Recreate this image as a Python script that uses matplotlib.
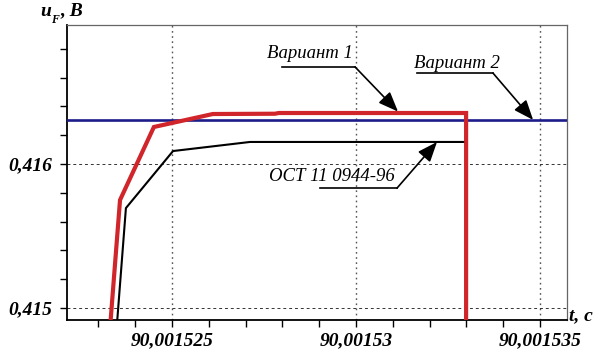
import matplotlib
matplotlib.use("Agg")
import matplotlib.pyplot as plt
from matplotlib.ticker import MultipleLocator, NullFormatter

# ---- data ----
red_t = [90.00152333, 90.00152359, 90.00152451, 90.00152611, 90.00152780,
         90.00152790, 90.00153299, 90.00153299]
red_u = [0.41490, 0.415750, 0.416257, 0.416347, 0.416349,
         0.416354, 0.416354, 0.41490]
black_t = [90.00152351, 90.00152375, 90.00152503, 90.00152712, 90.00153291]
black_u = [0.41490, 0.415694, 0.416090, 0.416153, 0.416153]
blue_u = 0.416306
xticks = [90.001525, 90.00153, 90.001535]
xtick_labels = ["90,001525", "90,00153", "90,001535"]
yticks = [0.415, 0.416]
ytick_labels = ["0,415", "0,416"]
xlim = (90.00152215, 90.00153573)
ylim = (0.414917, 0.416965)

serif = "Liberation Serif"

fig = plt.figure(figsize=(6.01, 3.51), dpi=100)
ax = fig.add_axes([0.1115, 0.0883, 0.8319, 0.8405])
ax.set_xlim(*xlim)
ax.set_ylim(*ylim)

ax.axhline(blue_u, color="#1c1c8a", lw=1.9, zorder=3)
ax.plot(red_t, red_u, color="#d0252a", lw=3.0, solid_joinstyle="miter", zorder=4)
ax.plot(black_t, black_u, color="black", lw=1.5, zorder=4)

ax.set_xticks(xticks)
ax.set_xticklabels(xtick_labels)
ax.set_yticks(yticks)
ax.set_yticklabels(ytick_labels)
ax.xaxis.set_minor_locator(MultipleLocator(1e-6))
ax.yaxis.set_minor_locator(MultipleLocator(0.0002))
ax.xaxis.set_minor_formatter(NullFormatter())
ax.yaxis.set_minor_formatter(NullFormatter())
ax.tick_params(which="both", direction="out", length=5, width=1, colors="black")
ax.tick_params(axis="x", which="major", pad=4)
ax.tick_params(axis="y", which="major", pad=6)
for lab in ax.get_xticklabels() + ax.get_yticklabels():
    lab.set_fontfamily(serif)
    lab.set_fontweight("bold")
    lab.set_fontstyle("italic")
    lab.set_fontsize(14)

ax.grid(axis="x", which="major", color="#555555", linestyle=(0, (1.2, 2.5)), lw=1.0)
ax.grid(axis="y", which="major", color="#333333", linestyle=(0, (3, 3)), lw=0.7)

for s in ["left", "bottom"]:
    ax.spines[s].set_color("black")
    ax.spines[s].set_linewidth(1.3)
for s in ["top", "right"]:
    ax.spines[s].set_color("#666666")
    ax.spines[s].set_linewidth(0.9)

# axis labels
fig.text(40 / 601, 1 - 11 / 351, "u", family=serif, weight="bold", style="italic",
         fontsize=14, ha="left", va="center")
fig.text(51 / 601, 1 - 20 / 351, "F", family=serif, weight="bold", style="italic",
         fontsize=8.5, ha="left", va="center")
fig.text(60 / 601, 1 - 11 / 351, ", B", family=serif, weight="bold", style="italic",
         fontsize=14, ha="left", va="center")
fig.text(569 / 601, 1 - 316 / 351, "t, c", family=serif, weight="bold", style="italic",
         fontsize=14, ha="left", va="center")

# annotations
arrow = dict(arrowstyle="-|>,head_length=0.55,head_width=0.22", color="black",
             lw=1.2, mutation_scale=22, shrinkA=0, shrinkB=0)

def label(text, tx, ty, ux0, ux1, uy, tip):
    ax.text(tx, ty, text, transform=ax.transAxes, family=serif, style="italic",
            fontsize=13.5, ha="center", va="center")
    ax.plot([ux0, ux1], [uy, uy], transform=ax.transAxes, color="black", lw=1.2,
            clip_on=False, zorder=5)
    ax.annotate("", xy=tip, xycoords="data", xytext=(ux1, uy),
                textcoords="axes fraction", arrowprops=arrow, zorder=6)

label("Вариант 1", 0.486, 0.902, 0.43, 0.576, 0.858, (90.00153114, red_u[-2] + 0.00001))
label("Вариант 2", 0.780, 0.871, 0.70, 0.852, 0.837, (90.00153481, blue_u))
label("ОСТ 11 0944-96", 0.530, 0.485, 0.506, 0.66, 0.447, (90.0015322, black_u[-1]))

fig.savefig("out.png", dpi=100)
